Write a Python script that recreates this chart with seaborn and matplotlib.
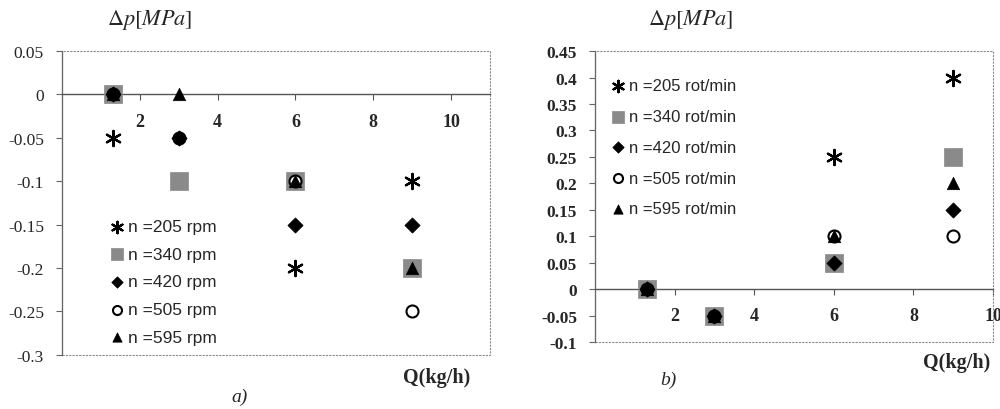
import matplotlib
matplotlib.use('Agg')
import matplotlib.pyplot as plt
import seaborn as sns
from matplotlib.patches import Rectangle

# ---------------- data ----------------
Q = [1.3, 3, 6, 9]

# panel a) (rpm)
labels_a = ['n =205 rpm', 'n =340 rpm', 'n =420 rpm', 'n =505 rpm', 'n =595 rpm']
dp_a_205 = [-0.05, -0.10, -0.20, -0.10]
dp_a_340 = [0.00, -0.10, -0.10, -0.20]
dp_a_420 = [0.00, -0.05, -0.15, -0.15]
dp_a_505 = [0.00, -0.05, -0.10, -0.25]
dp_a_595 = [0.00, 0.00, -0.10, -0.20]

# panel b) (rot/min)
labels_b = ['n =205 rot/min', 'n =340 rot/min', 'n =420 rot/min',
            'n =505 rot/min', 'n =595 rot/min']
dp_b_205 = [0.00, -0.05, 0.25, 0.40]
dp_b_340 = [0.00, -0.05, 0.05, 0.25]
dp_b_420 = [0.00, -0.05, 0.05, 0.15]
dp_b_505 = [0.00, -0.05, 0.10, 0.10]
dp_b_595 = [0.00, -0.05, 0.10, 0.20]

xticks = [2, 4, 6, 8, 10]
yticks_a = [-0.3, -0.25, -0.2, -0.15, -0.1, -0.05, 0, 0.05]
yticklabels_a = ['-0.3', '-0.25', '-0.2', '-0.15', '-0.1', '-0.05', '0', '0.05']
yticks_b = [-0.1, -0.05, 0, 0.05, 0.1, 0.15, 0.2, 0.25, 0.3, 0.35, 0.4, 0.45]
yticklabels_b = ['-0.1', '-0.05', '0', '0.05', '0.1', '0.15', '0.2', '0.25',
                 '0.3', '0.35', '0.4', '0.45']

# ---------------- style ----------------
sns.set_theme(style='white')
plt.rcParams['font.family'] = ['Liberation Serif', 'DejaVu Serif']
plt.rcParams['mathtext.fontset'] = 'stix'

STAR = (6, 2, 0)
styles = [
    dict(marker=STAR, color='black', s=120, linewidth=1.6),
    dict(marker='s', color='#8a8a8a', s=150, edgecolor='#8a8a8a', linewidth=0.5),
    dict(marker='D', color='black', s=60, edgecolor='black', linewidth=0.5),
    dict(marker='o', color='white', s=75, edgecolor='black', linewidth=1.5),
    dict(marker='^', color='black', s=80, edgecolor='black', linewidth=0.5),
]
draw_order = [0, 1, 3, 2, 4]

fig = plt.figure(figsize=(10, 4.1), dpi=100)
ax_a = fig.add_axes([0.062, 0.132, 0.428, 0.741])
ax_b = fig.add_axes([0.595, 0.163, 0.398, 0.710])


def panel(ax, series, labels, xlim, ylim, yticks, yticklabels, ybold,
          leg_anchor, labelspacing, legsize):
    for i in draw_order:
        st = dict(styles[i])
        sns.scatterplot(x=Q, y=series[i], ax=ax, label=labels[i], zorder=3, **st)
    h, l = ax.get_legend_handles_labels()
    mp = dict(zip(l, h))
    ax.set_xlim(*xlim)
    ax.set_ylim(*ylim)
    for sp in ['top', 'right']:
        ax.spines[sp].set_visible(False)
    ax.spines['bottom'].set_position(('data', 0))
    ax.spines['bottom'].set_color('#555555')
    ax.spines['bottom'].set_linewidth(1.0)
    ax.spines['left'].set_color('#666666')
    ax.spines['left'].set_linewidth(0.9)
    ax.add_patch(Rectangle((0, 0), 1, 1, transform=ax.transAxes, fill=False,
                           edgecolor='#8a8a8a', linewidth=0.8, linestyle=(0, (2, 1)),
                           clip_on=False, zorder=1))
    ax.set_xticks(xticks)
    ax.set_xticklabels([str(t) for t in xticks], fontweight='bold', fontsize=13)
    ax.set_yticks(yticks)
    ax.set_yticklabels(yticklabels, fontsize=12.5,
                       fontweight='bold' if ybold else 'normal')
    ax.tick_params(axis='x', direction='out', length=4, width=0.8,
                   color='#555555', pad=9, bottom=True)
    ax.tick_params(axis='y', direction='out', length=4, width=0.8,
                   color='#666666', pad=9, left=True)
    ax.set_xlabel('')
    ax.set_ylabel('')
    ax.legend([mp[lb] for lb in labels], labels, loc='upper left',
              bbox_to_anchor=leg_anchor, frameon=False,
              prop={'family': 'Liberation Sans', 'size': legsize},
              handlelength=0.8, handletextpad=0.25, labelspacing=labelspacing,
              markerscale=0.75, borderaxespad=0)


panel(ax_a, [dp_a_205, dp_a_340, dp_a_420, dp_a_505, dp_a_595], labels_a,
      (0, 11), (-0.3, 0.05), yticks_a, yticklabels_a, False,
      (0.095, 0.47), 0.72, 12.5)
panel(ax_b, [dp_b_205, dp_b_340, dp_b_420, dp_b_505, dp_b_595], labels_b,
      (0, 10), (-0.1, 0.45), yticks_b, yticklabels_b, True,
      (0.025, 0.93), 0.95, 12)

# titles / axis labels
fig.text(0.107, 0.951, r'$\Delta p[MPa]$', fontsize=16, ha='left', va='center')
fig.text(0.648, 0.951, r'$\Delta p[MPa]$', fontsize=16, ha='left', va='center')
fig.text(0.437, 0.078, 'Q(kg/h)', fontsize=14.5, fontweight='bold', ha='center', va='center')
fig.text(0.957, 0.115, 'Q(kg/h)', fontsize=14.5, fontweight='bold', ha='center', va='center')
fig.text(0.240, 0.032, 'a)', fontsize=14, fontstyle='italic', ha='center', va='center')
fig.text(0.668, 0.073, 'b)', fontsize=14, fontstyle='italic', ha='center', va='center')

fig.savefig('out.png', dpi=100, facecolor='white')
